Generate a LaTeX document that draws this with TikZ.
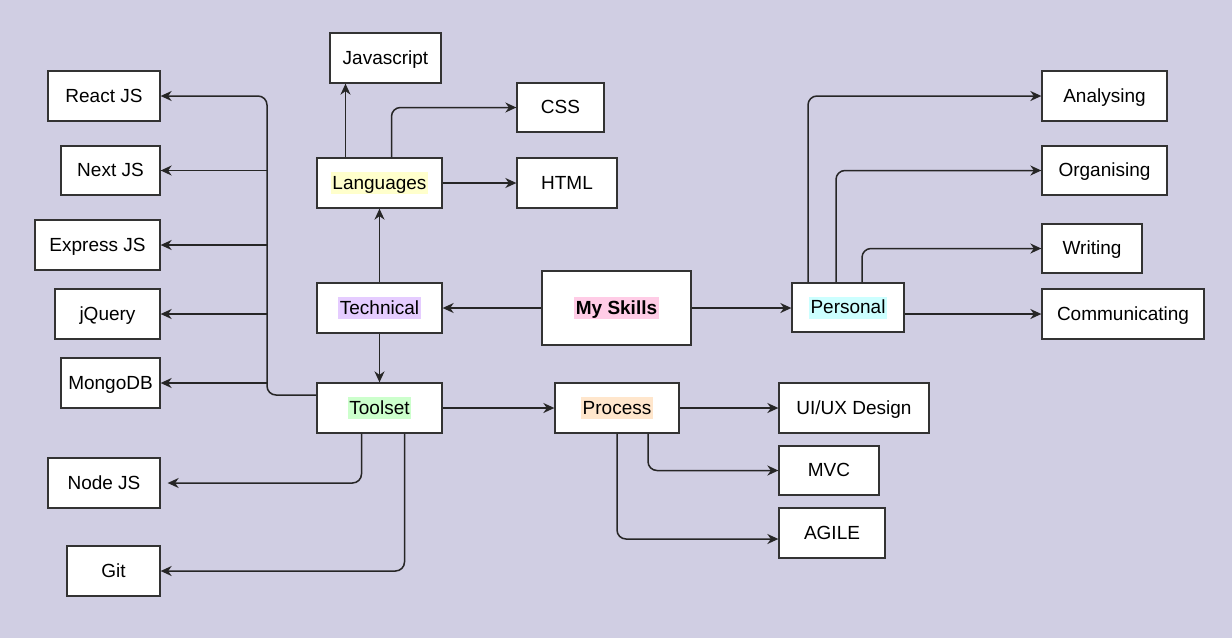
\documentclass[tikz,border=0pt]{standalone}
\usepackage{fontspec}
\setmainfont{Liberation Sans}
\usetikzlibrary{arrows.meta}
\definecolor{bg}{HTML}{D0CEE3}
\definecolor{edge}{HTML}{333333}
\definecolor{hlY}{HTML}{FFFFCC}
\definecolor{hlV}{HTML}{E5CCFF}
\definecolor{hlP}{HTML}{FFCCE6}
\definecolor{hlC}{HTML}{CCFFFF}
\definecolor{hlG}{HTML}{CCFFCC}
\definecolor{hlO}{HTML}{FFE6CC}
\newcommand\hlbox[2]{{\setlength\fboxsep{1.5pt}\colorbox{#1}{\rule[-3.5pt]{0pt}{19pt}#2}}}
\begin{document}
\begin{tikzpicture}[x=1pt,y=-1pt,
  box/.style={draw=edge,line width=1.3pt,fill=white,inner sep=0pt,
    text height=17pt,text depth=5pt,
    font=\fontsize{19}{23}\selectfont},
  arr/.style={draw=black!85,line width=1.5pt,
    -{Stealth[length=11pt,width=10pt,inset=3.5pt]}},
  elbow/.style={arr,rounded corners=9pt}]
\fill[bg] (0,0) rectangle (1232,638);
\useasboundingbox (0,0) rectangle (1232,638);
% nodes
\node[box,minimum width=111pt,minimum height=50pt] (js) at (385.5,58) {Javascript};
\node[box,minimum width=112pt,minimum height=50pt] (react) at (104,96) {React JS};
\node[box,minimum width=99pt,minimum height=49pt] (next) at (110.5,170.5) {Next JS};
\node[box,minimum width=125pt,minimum height=50pt] (express) at (97.5,245) {Express JS};
\node[box,minimum width=105pt,minimum height=50pt] (jq) at (107.5,314) {jQuery};
\node[box,minimum width=99pt,minimum height=50pt] (mongo) at (110.5,383) {MongoDB};
\node[box,minimum width=112pt,minimum height=50pt] (node) at (104,483) {Node JS};
\node[box,minimum width=93pt,minimum height=50pt] (git) at (113.5,571) {Git};
\node[box,minimum width=125pt,minimum height=50pt] (lang) at (379.5,183) {\hlbox{hlY}{Languages}};
\node[box,minimum width=87pt,minimum height=49pt] (css) at (560.5,107.5) {CSS};
\node[box,minimum width=100pt,minimum height=50pt] (html) at (567,183) {HTML};
\node[box,minimum width=125pt,minimum height=50pt] (tech) at (379.5,308) {\hlbox{hlV}{Technical}};
\node[box,minimum width=149pt,minimum height=74pt] (skills) at (616.5,308) {\hlbox{hlP}{\bfseries My Skills}};
\node[box,minimum width=112pt,minimum height=49pt] (pers) at (848,307.5) {\hlbox{hlC}{Personal}};
\node[box,minimum width=125pt,minimum height=50pt] (tool) at (379.5,408) {\hlbox{hlG}{Toolset}};
\node[box,minimum width=124pt,minimum height=50pt] (proc) at (617,408) {\hlbox{hlO}{Process}};
\node[box,minimum width=150pt,minimum height=50pt] (uiux) at (854,408) {UI/UX Design};
\node[box,minimum width=100pt,minimum height=49pt] (mvc) at (829,470.5) {MVC};
\node[box,minimum width=106pt,minimum height=50pt] (agile) at (832,533) {AGILE};
\node[box,minimum width=125pt,minimum height=50pt] (anal) at (1104.5,96) {Analysing};
\node[box,minimum width=125pt,minimum height=49pt] (org) at (1104.5,170.5) {Organising};
\node[box,minimum width=100pt,minimum height=49pt] (writ) at (1092,248.5) {Writing};
\node[box,minimum width=162pt,minimum height=50pt] (comm) at (1123,314) {Communicating};
% helper coordinates
\coordinate (bus) at (267,0);
\coordinate (tw) at ([yshift=13pt]tool.west);
% connectors
\draw[arr] (skills) -- (tech);
\draw[arr] (skills.east) -- (skills.east -| pers.west);
\draw[arr] (tech) -- (lang);
\draw[arr] (tech) -- (tool);
\draw[arr] ([xshift=-34pt]lang.north) -- ([xshift=-34pt]lang.north |- js.south);
\draw[elbow] ([xshift=12pt]lang.north) |- (css.west);
\draw[arr] (lang) -- (html);
\draw[elbow] (tw) -| (bus |- react.east) -- (react.east);
\draw[arr] (bus |- next.east) -- (next.east);
\draw[arr] (bus |- express.east) -- (express.east);
\draw[arr] (bus |- jq.east) -- (jq.east);
\draw[arr] (bus |- mongo.east) -- (mongo.east);
\draw[elbow] ([xshift=-18pt]tool.south) |- ([xshift=7pt]node.east);
\draw[elbow] ([xshift=25pt]tool.south) |- (git.east);
\draw[arr] (tool) -- (proc);
\draw[arr] (proc) -- (uiux);
\draw[elbow] ([xshift=31pt]proc.south) |- (mvc.west);
\draw[elbow] (proc.south) |- ([yshift=-6pt]agile.west);
\draw[elbow] ([xshift=-40pt]pers.north) |- (anal.west);
\draw[elbow] ([xshift=-12pt]pers.north) |- (org.west);
\draw[elbow] ([xshift=14pt]pers.north) |- (writ.west);
\draw[arr] ([yshift=-6.5pt]pers.east) -- (comm.west);
\end{tikzpicture}
\end{document}
